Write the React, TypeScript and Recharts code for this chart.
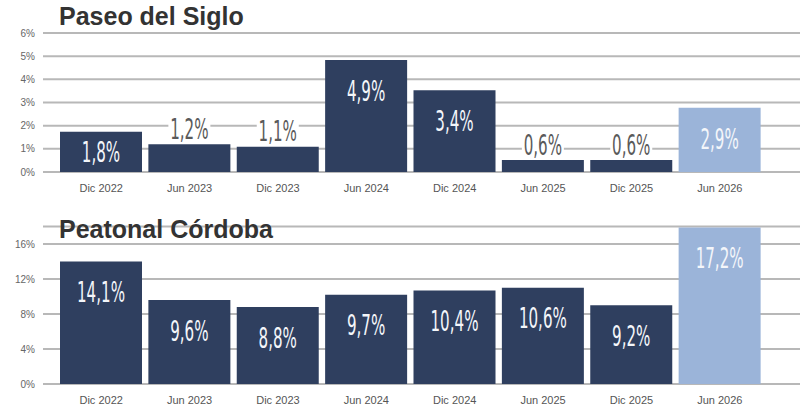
import { BarChart, Bar, XAxis, YAxis, CartesianGrid, Cell, LabelList } from "recharts";

const periods = ["Dic 2022", "Jun 2023", "Dic 2023", "Jun 2024", "Dic 2024", "Jun 2025", "Dic 2025", "Jun 2026"];

const siglo = [1.74, 1.2, 1.09, 4.83, 3.53, 0.52, 0.52, 2.77];
const sigloLabels = ["1,8%", "1,2%", "1,1%", "4,9%", "3,4%", "0,6%", "0,6%", "2,9%"];
const sigloTicks = [0, 1, 2, 3, 4, 5, 6];

// Peatonal Córdoba
const cordoba = [14.0, 9.6, 8.8, 10.2, 10.7, 11.0, 9.0, 17.9];
const cordobaLabels = ["14,1%", "9,6%", "8,8%", "9,7%", "10,4%", "10,6%", "9,2%", "17,2%"];
const cordobaTicks = [0, 4, 8, 12, 16];

const NAVY = "#2f3f5f";
const LIGHT = "#9bb4d9";
const GRID = "#b8b8b8";
const LABEL_FONT = "'Liberation Sans Narrow', 'DejaVu Sans Condensed', sans-serif";

function makeLabel(labels: string[]) {
  return (props: any) => {
    const { x, y, width, height, index } = props;
    const text = labels[index];
    const cx = x + width / 2;
    const inside = height > 34;
    const cy = inside ? y + Math.min(31, height / 2) : y - 15;
    return (
      <g>
        {!inside && <rect x={cx - 21} y={cy - 12} width={42} height={24} fill="#fff" />}
        <text
          transform={`translate(${cx},${cy}) scale(0.6,1)`}
          textAnchor="middle"
          dominantBaseline="central"
          fontSize={28}
          fontWeight={300}
          fontFamily={LABEL_FONT}
          fill={inside ? "#f4f6fa" : "#5a5a5a"}
        >
          {text}
        </text>
      </g>
    );
  };
}

function Panel({ values, labels, ticks, domain, height, top, xHeight }: {
  values: number[];
  labels: string[];
  ticks: number[];
  domain: [number, number];
  height: number;
  top: number;
  xHeight: number;
}) {
  const data = periods.map((period, i) => ({ period, value: values[i] }));
  return (
    <BarChart
      width={800}
      height={height}
      data={data}
      margin={{ top, right: 0, bottom: 0, left: 0 }}
      barCategoryGap={3}
    >
      <CartesianGrid vertical={false} stroke={GRID} strokeWidth={2} />
      <XAxis
        dataKey="period"
        axisLine={false}
        tickLine={false}
        height={xHeight}
        tickMargin={6}
        padding={{ left: 14, right: 36 }}
        tick={{ fontSize: 11, fill: "#555", fontFamily: "'Liberation Sans', Arial, sans-serif" }}
        interval={0}
      />
      <YAxis
        width={43}
        domain={domain}
        ticks={ticks}
        axisLine={false}
        tickLine={false}
        tickFormatter={(v) => `${v}%`}
        tick={{ fontSize: 10, fill: "#666", fontFamily: "'Liberation Sans', Arial, sans-serif" }}
      />
      <Bar dataKey="value" isAnimationActive={false}>
        {data.map((_, i) => (
          <Cell key={i} fill={i === data.length - 1 ? LIGHT : NAVY} />
        ))}
        <LabelList dataKey="value" content={makeLabel(labels)} />
      </Bar>
    </BarChart>
  );
}

const titleStyle: React.CSSProperties = {
  position: "absolute",
  left: 59,
  fontFamily: "'Liberation Sans', Arial, sans-serif",
  fontWeight: 700,
  fontSize: 25,
  color: "#333",
  lineHeight: 1,
  whiteSpace: "nowrap",
};

export default function App() {
  return (
    <div style={{ position: "absolute", left: 0, top: 0, width: 800, height: 418, background: "#fff", overflow: "hidden" }}>
      <div style={{ position: "absolute", left: 0, top: 0 }}>
        <Panel values={siglo} labels={sigloLabels} ticks={sigloTicks} domain={[0, 6]} height={200} top={33} xHeight={28} />
      </div>
      <div style={{ position: "absolute", left: 0, top: 208 }}>
        <Panel values={cordoba} labels={cordobaLabels} ticks={cordobaTicks} domain={[0, 18]} height={210} top={18.5} xHeight={34} />
      </div>
      <div style={{ ...titleStyle, top: 4 }}>Paseo del Siglo</div>
      <div style={{ ...titleStyle, top: 217 }}>Peatonal Córdoba</div>
    </div>
  );
}
